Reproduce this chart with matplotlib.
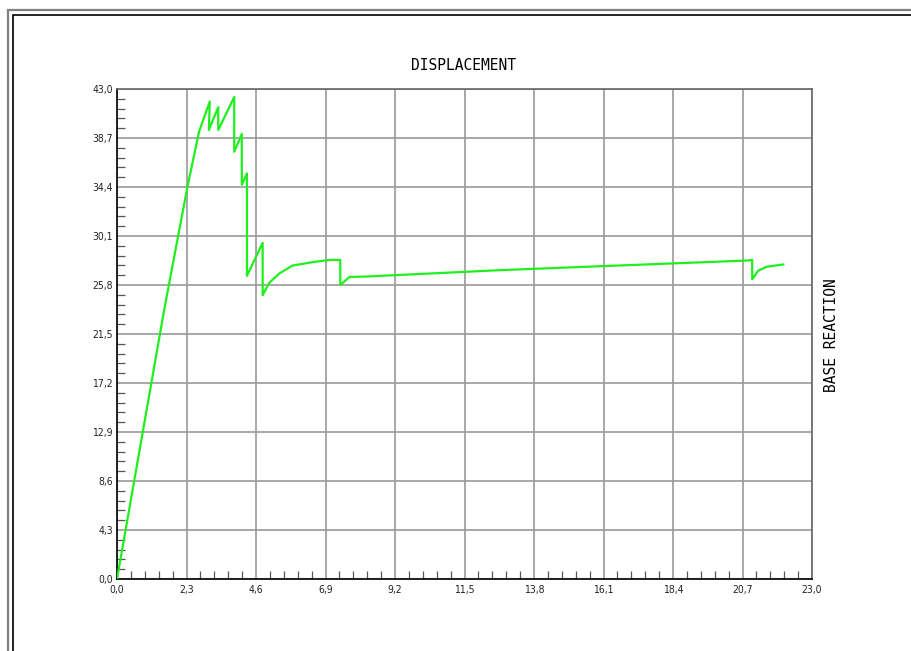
import matplotlib
matplotlib.use("Agg")
import matplotlib.pyplot as plt
from matplotlib.ticker import AutoMinorLocator, FuncFormatter
from matplotlib.patches import Rectangle

# Data
disp = [0.0, 1.56, 2.33, 2.72, 3.07, 3.04, 3.35, 3.35, 3.88, 3.88, 4.13, 4.13,
        4.30, 4.30, 4.82, 4.82, 5.04, 5.37, 5.80, 6.46, 7.03, 7.39, 7.39, 7.69,
        8.30, 12.66, 16.5, 20.88, 21.02, 21.02, 21.22, 21.50, 22.05]
reaction = [0.0, 23.6, 34.4, 39.3, 41.9, 39.4, 41.4, 39.4, 42.3, 37.5, 39.05, 34.6,
            35.6, 26.6, 29.5, 24.9, 26.0, 26.8, 27.5, 27.8, 28.0, 28.0, 25.8, 26.5,
            26.55, 27.1, 27.5, 27.95, 28.0, 26.3, 27.06, 27.4, 27.6]

x_ticks = [0.0, 2.3, 4.6, 6.9, 9.2, 11.5, 13.8, 16.1, 18.4, 20.7, 23.0]
y_ticks = [0.0, 4.3, 8.6, 12.9, 17.2, 21.5, 25.8, 30.1, 34.4, 38.7, 43.0]

W, H = 911, 651
fig = plt.figure(figsize=(W / 100, H / 100), dpi=100)
fig.patch.set_facecolor("white")

# Double frame around the figure
fig.add_artist(Rectangle((8 / W, -0.1), 1.2, (H - 10) / H + 0.1,
                         transform=fig.transFigure, fill=False,
                         edgecolor="#808080", linewidth=1.6))
fig.add_artist(Rectangle((12.5 / W, -0.1), 1.2, (H - 15) / H + 0.1,
                         transform=fig.transFigure, fill=False,
                         edgecolor="black", linewidth=1.2))

left, right = 117 / W, 812 / W
bottom, top = (H - 579) / H, (H - 89) / H
ax = fig.add_axes([left, bottom, right - left, top - bottom])

ax.plot(disp, reaction, color="#1ef01e", linewidth=1.6, zorder=3)

ax.set_xlim(0, 23.0)
ax.set_ylim(0, 43.0)
ax.set_xticks(x_ticks)
ax.set_yticks(y_ticks)
ax.xaxis.set_minor_locator(AutoMinorLocator(5))
ax.yaxis.set_minor_locator(AutoMinorLocator(5))
fmt = FuncFormatter(lambda v, p: f"{v:.1f}".replace(".", ","))
ax.xaxis.set_major_formatter(fmt)
ax.yaxis.set_major_formatter(fmt)

ax.grid(True, which="major", color="#9a9a9a", linewidth=1.2, zorder=1)
ax.tick_params(which="major", length=0, pad=4, labelsize=7.5, colors="#222222")
ax.tick_params(which="minor", direction="in", length=6, width=0.9, color="#555555")
ax.tick_params(axis="y", which="major", pad=3)

ax.spines["left"].set_color("black")
ax.spines["bottom"].set_color("black")
ax.spines["left"].set_linewidth(1.2)
ax.spines["bottom"].set_linewidth(1.2)
ax.spines["top"].set_color("#666666")
ax.spines["right"].set_color("#666666")
ax.spines["top"].set_linewidth(1.2)
ax.spines["right"].set_linewidth(1.2)

for lab in ax.get_xticklabels() + ax.get_yticklabels():
    lab.set_family(["Liberation Sans Narrow", "DejaVu Sans"])
    lab.set_fontstretch("condensed")

fig.text(464 / W, 1 - 65 / H, "DISPLACEMENT", ha="center", va="center",
         fontsize=10.5, family="DejaVu Sans Mono", color="black")
fig.text(832 / W, 1 - 335 / H, "BASE REACTION", ha="center", va="center",
         rotation=90, fontsize=10.5, family="DejaVu Sans Mono", color="black")

fig.savefig("out.png", dpi=100, facecolor="white")
